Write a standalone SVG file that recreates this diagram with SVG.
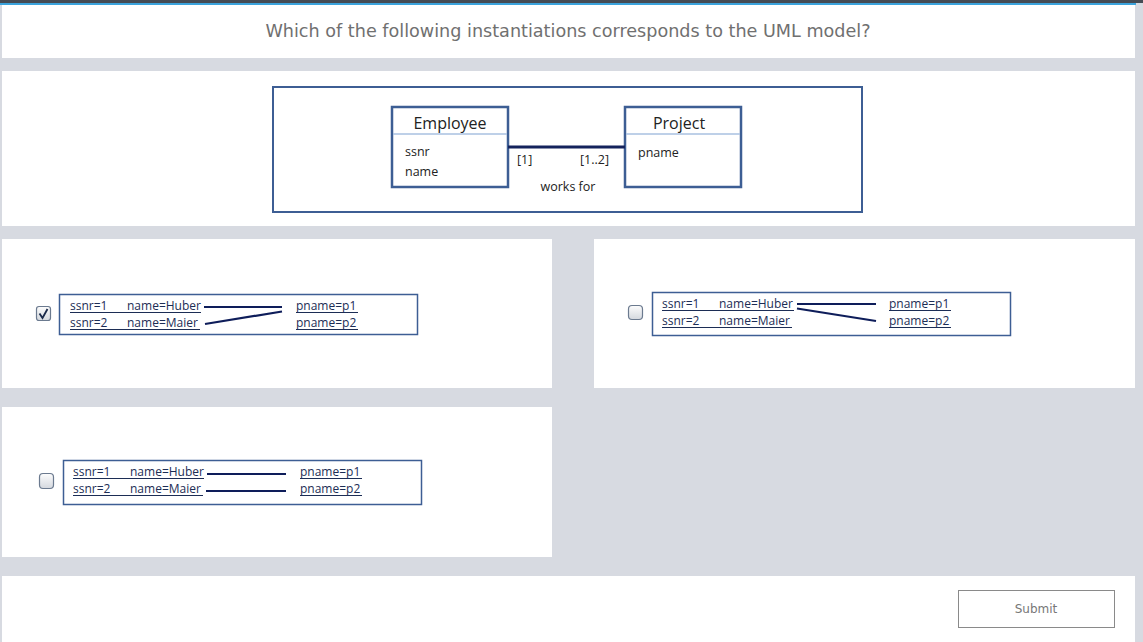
<svg xmlns="http://www.w3.org/2000/svg" width="1143" height="642" viewBox="0 0 1143 642">
<style>
.panel{fill:#ffffff}
.frame{fill:#ffffff;stroke:#3d5e94;stroke-width:2}
.cls{fill:#ffffff;stroke:#3d5e94;stroke-width:2.5}
.sep{stroke:#a9c1e0;stroke-width:1.5}
.uml{font-family:"Open Sans","Liberation Sans",sans-serif;fill:#222}
.inst{font-family:"Open Sans","Liberation Sans",sans-serif;font-size:12px;fill:#1c2d55}
.ul{stroke:#1c2d55;stroke-width:1}
.link{stroke:#0e1d5a;stroke-width:2.2;fill:none}
.ibox{fill:#ffffff;stroke:#3d5e94;stroke-width:1.5}
.cb{fill:url(#cbg);stroke:#6b7a8f;stroke-width:1.2}
</style>
<defs>
<linearGradient id="cbg" x1="0" y1="0" x2="0" y2="1">
<stop offset="0" stop-color="#fdfdfd"/>
<stop offset="1" stop-color="#d4d8de"/>
</linearGradient>
</defs>
<rect x="0" y="0" width="1143" height="642" fill="#d7dae1"/>
<rect x="0" y="0" width="1143" height="3" fill="#454b54"/>
<rect x="0" y="3" width="1136" height="2" fill="#3ba3dc"/>

<g id="question">
<rect class="panel" x="2" y="5" width="1133" height="53"/>
<text x="568" y="37" text-anchor="middle" font-family="DejaVu Sans, sans-serif" font-size="17.6" fill="#707070">Which of the following instantiations corresponds to the UML model?</text>
</g>

<g id="model">
<rect class="panel" x="2" y="71" width="1133" height="155"/>
<rect class="frame" x="273" y="87" width="589" height="125"/>
<g id="employee">
<rect class="cls" x="392" y="107" width="116" height="80"/>
<line class="sep" x1="393" y1="134" x2="507" y2="134"/>
<text class="uml" x="450" y="129" text-anchor="middle" font-size="16">Employee</text>
<text class="uml" x="405" y="156" font-size="12.5">ssnr</text>
<text class="uml" x="405" y="176" font-size="12.5">name</text>
</g>
<g id="project">
<rect class="cls" x="625" y="107" width="116" height="80"/>
<line class="sep" x1="626" y1="134" x2="740" y2="134"/>
<text class="uml" x="679" y="129" text-anchor="middle" font-size="16">Project</text>
<text class="uml" x="638" y="157" font-size="12.5">pname</text>
</g>
<g id="association">
<line x1="508" y1="147" x2="625" y2="147" stroke="#14235c" stroke-width="3"/>
<text class="uml" x="517" y="164" font-size="12.5">[1]</text>
<text class="uml" x="580" y="164" font-size="12.5">[1..2]</text>
<text class="uml" x="568" y="191" text-anchor="middle" font-size="12.5">works for</text>
</g>
</g>

<g id="option1">
<rect class="panel" x="2" y="239" width="550" height="149"/>
<rect class="cb" x="36.5" y="306.5" width="14" height="14" rx="2.5"/>
<path d="M39.5 313.5 L42.5 318 L47.5 309" stroke="#1a2a4a" stroke-width="1.8" fill="none"/>
<rect class="ibox" x="59.5" y="294.5" width="358" height="40"/>
<text class="inst" x="70" y="310">ssnr=1</text>
<text class="inst" x="127" y="310">name=Huber</text>
<line class="ul" x1="70" y1="312.5" x2="201" y2="312.5"/>
<text class="inst" x="70" y="327">ssnr=2</text>
<text class="inst" x="127" y="327">name=Maier</text>
<line class="ul" x1="70" y1="329.5" x2="200" y2="329.5"/>
<text class="inst" x="296" y="310">pname=p1</text>
<line class="ul" x1="296" y1="312.5" x2="358" y2="312.5"/>
<text class="inst" x="296" y="327">pname=p2</text>
<line class="ul" x1="296" y1="329.5" x2="358" y2="329.5"/>
<g class="links">
<line class="link" x1="204" y1="307" x2="282" y2="307"/>
<line class="link" x1="205" y1="324" x2="282" y2="311.5"/>
</g>
</g>

<g id="option2">
<rect class="panel" x="594" y="239" width="541" height="149"/>
<rect class="cb" x="628.5" y="305.5" width="14" height="14" rx="3.5"/>
<rect class="ibox" x="652.5" y="292.5" width="358" height="43"/>
<text class="inst" x="662" y="308">ssnr=1</text>
<text class="inst" x="719" y="308">name=Huber</text>
<line class="ul" x1="662" y1="310.5" x2="794" y2="310.5"/>
<text class="inst" x="662" y="325">ssnr=2</text>
<text class="inst" x="719" y="325">name=Maier</text>
<line class="ul" x1="662" y1="327.5" x2="792" y2="327.5"/>
<text class="inst" x="889" y="308">pname=p1</text>
<line class="ul" x1="889" y1="310.5" x2="951" y2="310.5"/>
<text class="inst" x="889" y="325">pname=p2</text>
<line class="ul" x1="889" y1="327.5" x2="951" y2="327.5"/>
<g class="links">
<line class="link" x1="797" y1="304" x2="876" y2="304"/>
<line class="link" x1="797" y1="308.5" x2="876" y2="321"/>
</g>
</g>

<g id="option3">
<rect class="panel" x="2" y="407" width="550" height="150"/>
<rect class="cb" x="39.5" y="473.5" width="14" height="15" rx="3.5"/>
<rect class="ibox" x="63.5" y="460.5" width="358" height="44"/>
<text class="inst" x="73" y="476">ssnr=1</text>
<text class="inst" x="130" y="476">name=Huber</text>
<line class="ul" x1="73" y1="478.5" x2="204" y2="478.5"/>
<text class="inst" x="73" y="493">ssnr=2</text>
<text class="inst" x="130" y="493">name=Maier</text>
<line class="ul" x1="73" y1="495.5" x2="203" y2="495.5"/>
<text class="inst" x="300" y="476">pname=p1</text>
<line class="ul" x1="300" y1="478.5" x2="362" y2="478.5"/>
<text class="inst" x="300" y="493">pname=p2</text>
<line class="ul" x1="300" y1="495.5" x2="362" y2="495.5"/>
<g class="links">
<line class="link" x1="207" y1="474" x2="286" y2="474"/>
<line class="link" x1="206" y1="491" x2="286" y2="491"/>
</g>
</g>

<g id="submit-panel">
<rect class="panel" x="2" y="576" width="1133" height="66"/>
<rect x="958.5" y="590.5" width="156" height="37" fill="#ffffff" stroke="#8a8a8a" stroke-width="1"/>
<text x="1036" y="613" text-anchor="middle" font-family="DejaVu Sans, sans-serif" font-size="12" fill="#777">Submit</text>
</g>
</svg>
